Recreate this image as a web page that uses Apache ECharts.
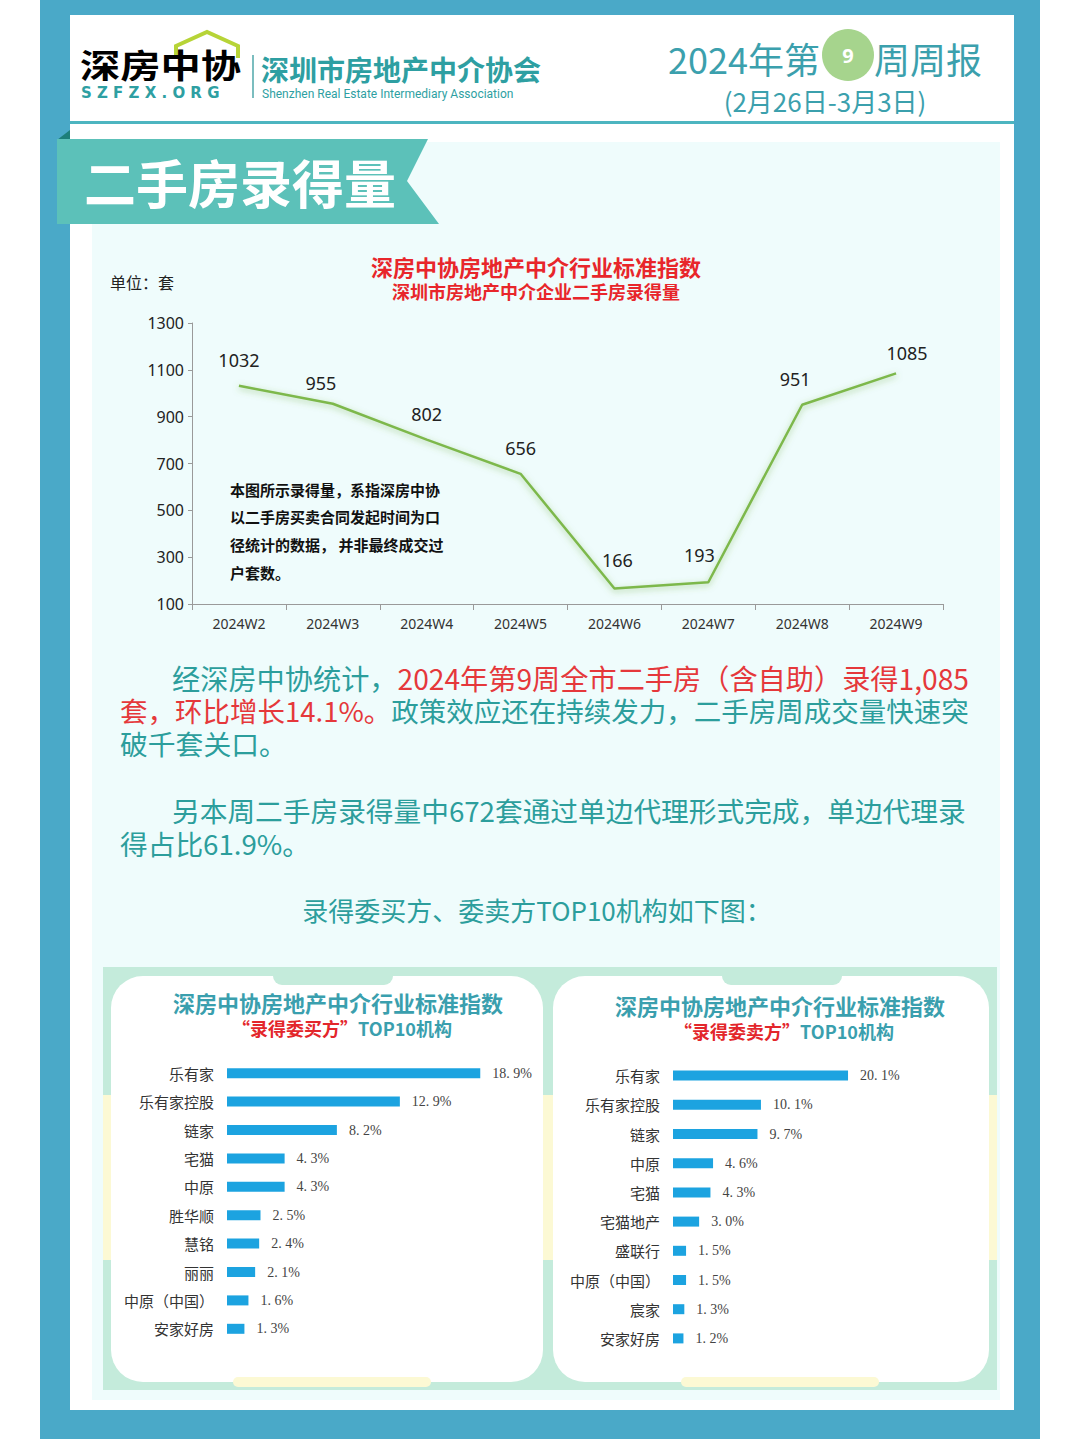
<!DOCTYPE html>
<html><head><meta charset="utf-8">
<script src="https://cdn.jsdelivr.net/npm/echarts@6/dist/echarts.min.js"></script>
<style>html,body{margin:0;padding:0;background:#fff}#c{width:1080px;height:1439px}</style>
</head><body><div id="c"></div>
<script>
const weeks = ['2024W2','2024W3','2024W4','2024W5','2024W6','2024W7','2024W8','2024W9'];
const volumes = [1032, 955, 802, 656, 166, 193, 951, 1085];
const buyerOrgs = ['乐有家','乐有家控股','链家','宅猫','中原','胜华顺','慧铭','丽丽','中原（中国）','安家好房'];
const buyerShares = [18.9, 12.9, 8.2, 4.3, 4.3, 2.5, 2.4, 2.1, 1.6, 1.3];
const sellerOrgs = ['乐有家','乐有家控股','链家','中原','宅猫','宅猫地产','盛联行','中原（中国）','宸家','安家好房'];
const sellerShares = [20.1, 10.1, 9.7, 4.6, 4.3, 3.0, 1.5, 1.5, 1.3, 1.2];

const CJK = '"Noto Sans CJK SC","Noto Sans",sans-serif';
const TEAL = '#2C9E9C';
const RED = '#E5383B';

function txt(x, y, text, style, extra) {
  const size = parseFloat((style.font || '16px').match(/([\d.]+)px/)[1]);
  return Object.assign({ type: 'text', x: x, y: y, silent: true,
    style: Object.assign({ text: text, font: '16px ' + CJK, fill: '#333', textVerticalAlign: 'middle', lineHeight: size }, style) }, extra || {});
}
function rect(x, y, w, h, fill, r) {
  return { type: 'rect', silent: true, shape: { x: x, y: y, width: w, height: h, r: r || 0 }, style: { fill: fill } };
}
function richLine(x, y, text, size, align, colors, weight) {
  const w = weight ? weight + ' ' : '';
  return { type: 'text', x: x, y: y, silent: true, style: { text: text, textAlign: align, textVerticalAlign: 'middle',
    rich: { t: { font: w + size + 'px ' + CJK, fill: colors[0], lineHeight: size }, r: { font: w + size + 'px ' + CJK, fill: colors[1], lineHeight: size } } } };
}

const graphics = [
  // outer frame
  rect(40, 0, 1000, 1439, '#4AA9C8'),
  rect(70, 15, 944, 1395, '#ffffff'),
  rect(92, 142, 908, 1258, '#EFFCFC'),
  rect(70, 121, 944, 3, '#4DB5C0'),
  // banner
  { type: 'polygon', silent: true, shape: { points: [[70,130],[57,140],[70,140]] }, style: { fill: '#1D7F7A' } },
  { type: 'polygon', silent: true, shape: { points: [[57,139],[428,139],[407,181],[439,224],[57,224]] }, style: { fill: '#5CC1B9' } },
  txt(84, 181, '二手房录得量', { font: 'bold 52px ' + CJK, fill: '#ffffff' }),
  // logo
  { type: 'polyline', silent: true, shape: { points: [[176,58],[176,46],[207,32],[238,46],[238,58]] }, style: { stroke: '#B7D437', lineWidth: 4, fill: null } },
  txt(80, 64, '深房中协', { font: 'bold 33px ' + CJK, fill: {
      type: 'linear', x: 0, y: 0, x2: 1, y2: 1,
      colorStops: [{ offset: 0, color: '#2BA3A6' }, { offset: 1, color: '#5DB98A' }] } }, { scaleX: 1.22, originX: 0, originY: 0 }),
  txt(81, 93, 'S Z F Z X . O R G', { font: 'bold 15px "DejaVu Sans",sans-serif', fill: '#2E9FA2' }),
  { type: 'line', silent: true, shape: { x1: 253, y1: 55, x2: 253, y2: 98 }, style: { stroke: '#4FA7AA', lineWidth: 1.5 } },
  txt(261, 69, '深圳市房地产中介协会', { font: 'bold 28px ' + CJK, fill: '#2E9FA2' }),
  txt(262, 94, 'Shenzhen Real Estate Intermediary Association', { font: '12px "Roboto",sans-serif', fill: '#2E9FA2' }),
  // report title
  txt(668, 58, '2024年第', { font: '36px ' + CJK, fill: '#3BA0AD' }),
  { type: 'circle', silent: true, shape: { cx: 848, cy: 55, r: 26 }, style: { fill: '#A6D48D' } },
  txt(848, 55, '9', { font: 'bold 20px "Noto Sans",sans-serif', fill: '#ffffff', textAlign: 'center' }),
  txt(874, 58, '周周报', { font: '36px ' + CJK, fill: '#3BA0AD' }),
  txt(825, 100, '(2月26日-3月3日)', { font: '26px ' + CJK, fill: '#3BA0AD', textAlign: 'center' }),
  // line chart titles
  txt(536, 266, '深房中协房地产中介行业标准指数', { font: 'bold 22px ' + CJK, fill: '#E8262B', textAlign: 'center' }),
  txt(536, 291, '深圳市房地产中介企业二手房录得量', { font: 'bold 18px ' + CJK, fill: '#E8262B', textAlign: 'center' }),
  txt(110, 282, '单位：套', { font: '16px ' + CJK, fill: '#222' }),
  txt(230, 489, '本图所示录得量，系指深房中协', { font: 'bold 15px ' + CJK, fill: '#111' }),
  txt(230, 516, '以二手房买卖合同发起时间为口', { font: 'bold 15px ' + CJK, fill: '#111' }),
  txt(230, 544, '径统计的数据， 并非最终成交过', { font: 'bold 15px ' + CJK, fill: '#111' }),
  txt(230, 572, '户套数。', { font: 'bold 15px ' + CJK, fill: '#111' }),
  // paragraphs
  richLine(172, 677, '{t|经深房中协统计，}{r|2024年第9周全市二手房（含自助）录得1,085}', 28.2, 'left', [TEAL, RED]),
  richLine(120, 710, '{r|套，环比增长14.1%。}{t|政策效应还在持续发力，二手房周成交量快速突}', 27.5, 'left', [TEAL, RED]),
  txt(120, 743, '破千套关口。', { font: '27.8px ' + CJK, fill: TEAL }),
  txt(172, 810, '另本周二手房录得量中672套通过单边代理形式完成，单边代理录', { font: '27.7px ' + CJK, fill: TEAL }),
  txt(120, 843, '得占比61.9%。', { font: '27.7px ' + CJK, fill: TEAL }),
  txt(537, 909, '录得委买方、委卖方TOP10机构如下图：', { font: '26px ' + CJK, fill: TEAL, textAlign: 'center' }),
  // bottom panel
  rect(103, 967, 894, 423, '#C4EBDB'),
  rect(103, 1095, 8, 165, '#FCF9D4'),
  rect(989, 1095, 8, 165, '#FCF9D4'),
  rect(543, 1095, 10, 165, '#FCF9D4'),
  rect(111, 976, 432, 406, '#ffffff', 32),
  rect(553, 976, 436, 406, '#ffffff', 32),
  rect(273, 967, 120, 18, '#C4EBDB', 9),
  rect(722, 967, 120, 18, '#C4EBDB', 9),
  rect(233, 1377, 198, 10, '#FCF9D4', 5),
  rect(681, 1377, 198, 10, '#FCF9D4', 5),
  txt(338, 1002, '深房中协房地产中介行业标准指数', { font: 'bold 22px ' + CJK, fill: '#3A9FAE', textAlign: 'center' }),
  richLine(342, 1028, '{r|“录得委买方”}{t|TOP10机构}', 18, 'center', ['#3A9FAE', '#E3262B'], 'bold'),
  txt(780, 1005, '深房中协房地产中介行业标准指数', { font: 'bold 22px ' + CJK, fill: '#3A9FAE', textAlign: 'center' }),
  richLine(784, 1031, '{r|“录得委卖方”}{t|TOP10机构}', 18, 'center', ['#3A9FAE', '#E3262B'], 'bold')
];

const barLabel = {
  show: true, position: 'right', distance: 12, color: '#444', fontSize: 14,
  fontFamily: '"Liberation Serif","DejaVu Serif",serif',
  formatter: p => p.value.toFixed(1).replace('.', '. ') + '%'
};
const catAxisLabel = { color: '#333', fontSize: 15, margin: 13, fontFamily: CJK };

// nudges of individual value labels, as in the reference layout
const labelNudge = { 1: [-12, 5], 4: [3, -3], 5: [-9, -2], 6: [-7, 0], 7: [11, 5] };
const lineData = volumes.map((v, i) => labelNudge[i] ? { value: v, label: { offset: labelNudge[i] } } : v);

const chart = echarts.init(document.getElementById('c'), null, { renderer: 'svg' });
chart.setOption({
  animation: false,
  graphic: { elements: graphics },
  grid: [
    { left: 192, top: 323, width: 751, height: 281 },
    { left: 227, top: 1059, width: 268, height: 284 },
    { left: 673, top: 1061, width: 209, height: 292 }
  ],
  xAxis: [
    { type: 'category', gridIndex: 0, data: weeks, boundaryGap: true,
      axisLine: { lineStyle: { color: '#9a9a9a' } },
      axisTick: { show: true, length: 6, lineStyle: { color: '#9a9a9a' } },
      axisLabel: { color: '#333', fontSize: 14, margin: 12, fontFamily: '"Noto Sans",sans-serif' } },
    { type: 'value', gridIndex: 1, min: 0, max: 20, show: false },
    { type: 'value', gridIndex: 2, min: 0, max: 24, show: false }
  ],
  yAxis: [
    { type: 'value', gridIndex: 0, min: 100, max: 1300, interval: 200,
      axisLine: { show: true, lineStyle: { color: '#9a9a9a' } },
      axisTick: { show: true, length: 4, lineStyle: { color: '#9a9a9a' } },
      splitLine: { show: false },
      axisLabel: { color: '#222', fontSize: 16, margin: 8, formatter: v => String(v),
        fontFamily: '"Liberation Sans Narrow","Noto Sans",sans-serif' } },
    { type: 'category', gridIndex: 1, data: buyerOrgs, inverse: true,
      axisLine: { show: false }, axisTick: { show: false }, axisLabel: catAxisLabel },
    { type: 'category', gridIndex: 2, data: sellerOrgs, inverse: true,
      axisLine: { show: false }, axisTick: { show: false }, axisLabel: catAxisLabel }
  ],
  series: [
    { type: 'line', xAxisIndex: 0, yAxisIndex: 0, data: lineData,
      symbol: 'circle', symbolSize: 1, showSymbol: true, itemStyle: { color: '#7DB84B', opacity: 0 },
      lineStyle: { color: '#7DB84B', width: 2.5, shadowColor: 'rgba(110,170,60,0.55)', shadowBlur: 6, shadowOffsetY: 2 },
      label: { show: true, position: 'top', distance: 16, color: '#222', fontSize: 18, opacity: 1,
        fontFamily: '"Noto Sans",sans-serif' } },
    { type: 'bar', xAxisIndex: 1, yAxisIndex: 1, data: buyerShares, barWidth: 10,
      itemStyle: { color: '#1CA3E0' }, label: barLabel },
    { type: 'bar', xAxisIndex: 2, yAxisIndex: 2, data: sellerShares, barWidth: 10,
      itemStyle: { color: '#1CA3E0' }, label: barLabel }
  ]
});
</script></body></html>
